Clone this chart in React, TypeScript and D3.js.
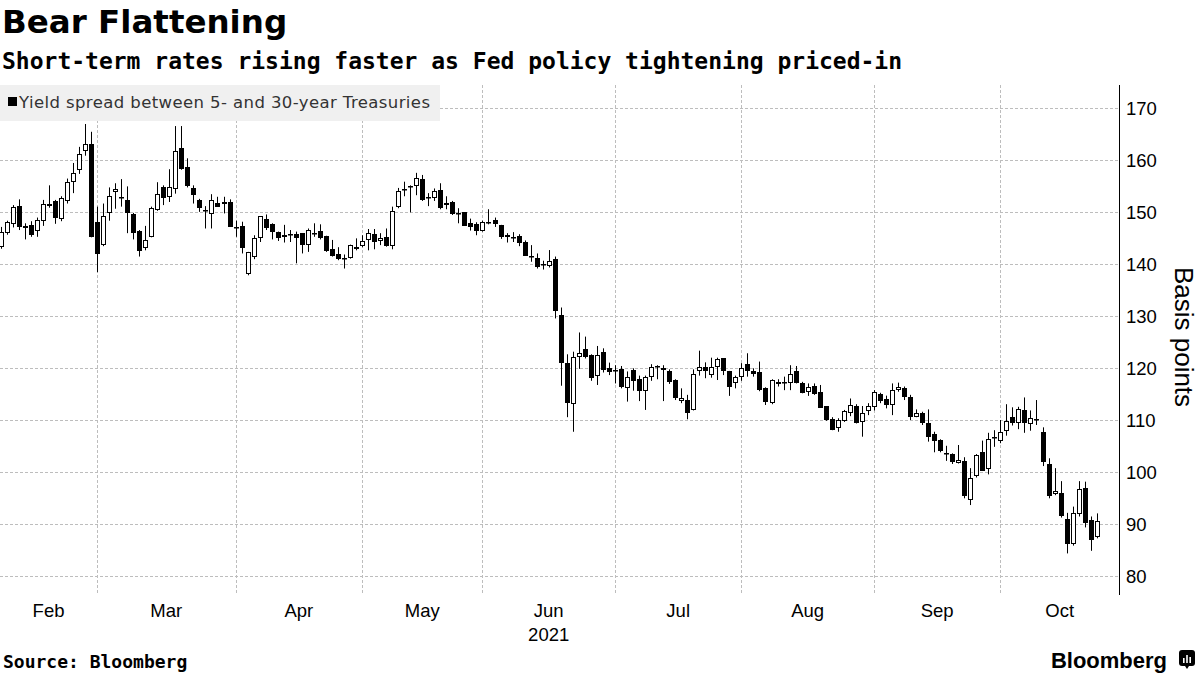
import React from 'react';
import * as d3 from 'd3';

// ---- Data (basis points), one entry per trading day, Feb 5 .. Oct 25, 2021 ----
const OPEN = [
  143.4, 146.1, 147.7, 151.3, 146.9, 147.6, 146.5, 148.4, 151.2, 152.2,
  148.8, 152.2, 155.9, 158.2, 161.8, 163.1, 148.1, 143.8, 149.9, 154.0,
  152.9, 152.4, 149.6, 146.4, 143.2, 145.3, 150.4, 154.8, 153.0, 154.4,
  162.4, 158.7, 154.7, 152.4, 150.5, 149.7, 151.8, 152.0, 152.0, 147.1,
  147.4, 138.1, 141.5, 145.0, 148.7, 147.7, 146.2, 145.2, 145.8, 145.8,
  146.0, 143.8, 146.1, 146.4, 145.4, 142.9, 141.9, 141.2, 141.3, 143.3,
  143.5, 144.7, 145.8, 144.5, 145.2, 143.5, 151.1, 154.3, 155.1, 155.1,
  156.4, 152.9, 152.8, 154.3, 151.8, 152.0, 149.8, 150.0, 148.0, 147.7,
  146.5, 148.2, 148.5, 147.6, 145.6, 145.3, 145.4, 144.3, 141.7, 141.3,
  140.0, 139.7, 141.0, 130.25, 121.1, 113.1, 122.2, 123.7, 122.55, 118.6,
  123.1, 120.0, 119.6, 119.8, 116.3, 119.7, 117.9, 115.6, 118.4, 120.45,
  120.1, 119.5, 117.8, 113.7, 113.9, 112.0, 119.4, 120.2, 118.8, 120.3,
  121.9, 119.5, 117.1, 118.4, 120.8, 119.55, 119.3, 116.15, 113.3, 116.9,
  117.4, 117.2, 119.4, 117.2, 115.5, 116.6, 115.4, 112.75, 110.2, 108.5,
  109.9, 111.35, 112.75, 109.7, 111.7, 112.6, 115.1, 114.1, 112.95, 115.8,
  116.3, 114.55, 110.7, 111.5, 109.55, 107.4, 106.2, 103.7, 103.5, 101.7,
  102.2, 94.7, 99.35, 104.0, 100.6, 106.8, 106.0, 108.0, 110.6, 109.4,
  112.0, 109.2, 110.2, 107.8, 101.6, 95.8, 95.95, 91.0, 86.2, 91.9,
  96.9, 90.8, 87.5,
];
const HIGH = [
  147.2, 148.4, 151.4, 152.5, 147.9, 148.3, 149.0, 152.4, 155.2, 152.4,
  153.1, 156.5, 159.5, 162.6, 167.0, 165.5, 151.1, 151.7, 154.8, 155.6,
  156.4, 155.0, 149.9, 146.6, 147.4, 151.1, 155.8, 155.2, 158.3, 166.6,
  166.6, 160.4, 155.2, 152.6, 151.2, 153.5, 153.0, 153.0, 152.5, 148.4,
  148.2, 142.4, 145.6, 149.3, 149.6, 147.9, 146.3, 147.6, 146.6, 146.3,
  146.0, 146.9, 147.9, 147.7, 145.5, 144.7, 143.3, 141.9, 143.8, 145.0,
  145.6, 146.8, 146.8, 146.0, 146.9, 151.1, 154.7, 155.9, 155.2, 157.6,
  157.2, 153.7, 154.6, 155.6, 153.1, 152.2, 150.8, 150.0, 148.8, 148.1,
  148.4, 150.6, 149.0, 147.6, 146.0, 146.2, 145.8, 144.6, 143.7, 142.1,
  140.7, 142.75, 141.5, 131.7, 122.7, 123.2, 126.9, 126.1, 122.7, 124.3,
  123.85, 121.1, 120.6, 120.45, 119.4, 120.0, 118.6, 118.6, 120.8, 120.6,
  120.6, 119.8, 117.9, 116.15, 114.9, 119.8, 123.4, 121.15, 122.05, 122.05,
  121.9, 119.5, 118.6, 121.0, 122.9, 120.0, 121.3, 116.35, 117.9, 117.9,
  118.4, 120.6, 120.45, 117.4, 117.1, 117.1, 116.8, 112.75, 110.6, 110.4,
  112.0, 114.2, 113.1, 112.75, 113.3, 115.8, 115.3, 114.75, 117.1, 117.25,
  116.5, 114.9, 112.1, 111.65, 112.1, 107.8, 106.35, 105.1, 103.65, 105.25,
  102.9, 100.8, 103.5, 106.1, 107.6, 108.1, 110.06, 113.1, 112.5, 112.6,
  114.4, 111.9, 113.9, 108.65, 102.7, 100.8, 98.3, 92.2, 93.4, 98.3,
  98.2, 91.5, 92.1,
];
const LOW = [
  143.0, 145.7, 147.1, 146.6, 144.8, 145.3, 145.3, 147.4, 150.9, 147.8,
  148.3, 151.7, 153.7, 157.4, 160.9, 145.2, 138.5, 143.5, 148.4, 150.7,
  151.1, 146.0, 144.8, 141.5, 142.7, 145.2, 150.3, 151.4, 152.0, 153.6,
  158.2, 154.8, 151.7, 150.1, 146.9, 146.9, 151.1, 149.8, 147.2, 145.3,
  142.1, 137.9, 141.0, 144.3, 146.6, 144.8, 144.5, 144.2, 144.3, 140.2,
  142.1, 142.4, 145.3, 144.8, 142.4, 141.5, 140.8, 139.2, 141.1, 142.7,
  143.3, 142.7, 142.9, 143.7, 143.4, 142.9, 150.8, 153.1, 150.0, 153.3,
  152.2, 151.2, 152.2, 150.6, 150.6, 149.5, 147.9, 147.4, 146.5, 145.6,
  146.3, 147.7, 147.2, 144.9, 144.2, 144.3, 143.5, 141.7, 140.5, 139.2,
  139.0, 139.4, 129.6, 116.65, 110.6, 107.8, 119.9, 121.9, 117.6, 116.8,
  119.2, 118.7, 117.1, 116.15, 113.6, 115.7, 113.7, 112.0, 117.6, 117.9,
  113.7, 117.0, 113.9, 113.3, 110.2, 111.9, 118.6, 118.1, 118.2, 117.75,
  118.7, 114.7, 116.15, 117.6, 118.4, 118.4, 115.6, 112.95, 113.1, 116.5,
  115.8, 115.8, 117.1, 115.2, 114.7, 114.9, 112.4, 109.9, 108.1, 107.8,
  109.7, 110.8, 109.4, 106.85, 111.0, 111.9, 113.3, 112.3, 111.0, 115.5,
  113.9, 110.06, 110.6, 109.1, 105.9, 103.85, 103.85, 102.2, 101.6, 101.7,
  95.0, 93.7, 99.0, 100.3, 99.6, 104.9, 105.6, 107.05, 109.0, 108.3,
  107.6, 108.0, 109.1, 101.2, 95.0, 95.6, 91.3, 84.4, 85.9, 91.5,
  89.4, 84.9, 87.3,
];
const CLOSE = [
  146.3, 148.1, 151.1, 147.2, 147.4, 145.6, 148.5, 151.7, 151.7, 149.0,
  152.7, 155.8, 157.5, 161.3, 163.2, 145.3, 141.9, 149.3, 153.1, 154.5,
  152.8, 149.9, 146.1, 142.6, 144.7, 150.8, 153.6, 152.8, 154.8, 161.8,
  158.3, 155.1, 153.3, 150.9, 150.2, 152.4, 151.1, 151.6, 147.2, 146.9,
  143.1, 142.3, 145.0, 149.3, 147.0, 146.3, 145.0, 145.6, 145.6, 145.0,
  143.7, 146.6, 145.8, 145.1, 142.6, 141.7, 141.0, 141.1, 143.7, 143.0,
  144.5, 146.0, 144.3, 145.1, 143.5, 150.3, 154.1, 154.5, 154.8, 156.7,
  152.4, 152.7, 154.1, 150.9, 151.5, 149.6, 149.7, 147.4, 147.2, 146.5,
  148.2, 148.0, 147.7, 145.3, 145.2, 145.0, 144.2, 141.7, 141.6, 139.5,
  139.9, 140.6, 131.1, 121.1, 113.4, 122.2, 122.9, 122.2, 118.2, 122.55,
  119.7, 119.2, 119.5, 116.5, 118.3, 117.6, 115.7, 118.4, 120.2, 120.2,
  119.7, 117.3, 114.2, 114.2, 111.35, 119.0, 120.2, 119.4, 120.2, 121.7,
  119.4, 116.5, 118.3, 120.0, 119.4, 118.9, 115.8, 113.6, 117.8, 117.4,
  117.1, 118.9, 117.2, 115.3, 116.5, 115.1, 112.4, 110.05, 108.1, 110.05,
  111.8, 112.95, 109.55, 111.5, 112.75, 115.5, 113.8, 112.95, 115.8, 116.35,
  114.4, 110.7, 111.5, 109.55, 106.85, 106.1, 104.1, 103.6, 102.05, 102.4,
  95.4, 99.0, 103.3, 100.3, 106.5, 106.6, 107.8, 109.9, 109.55, 112.2,
  109.4, 110.4, 110.1, 102.05, 95.45, 96.4, 91.5, 86.15, 92.1, 96.8,
  90.3, 87.0, 90.6,
];

const MONTHS = ['Feb', 'Mar', 'Apr', 'May', 'Jun', 'Jul', 'Aug', 'Sep', 'Oct'];
const MONTH_START = [0, 16, 39, 60, 80, 102, 123, 145, 166];
const YEAR_LABEL = '2021';
const Y_TICKS = [80, 90, 100, 110, 120, 130, 140, 150, 160, 170];

const TITLE = 'Bear Flattening';
const SUBTITLE = 'Short-term rates rising faster as Fed policy tightening priced-in';
const LEGEND = 'Yield spread between 5- and 30-year Treasuries';
const Y_LABEL = 'Basis points';
const SOURCE = 'Source: Bloomberg';

export default function App() {
  const W = 1200;
  const H = 675;
  const plotLeft = 0;
  const axisX = 1119;
  const plotTop = 85;
  const plotBottom = 595;
  const n = OPEN.length;

  const x = d3.scaleLinear().domain([0, n - 1]).range([0.7, 1096.7]);
  const y = d3.scaleLinear().domain([76.4, 174.5]).range([plotBottom, plotTop]);

  const sans = 'Liberation Sans, Arial, sans-serif';
  const wide = 'DejaVu Sans, Verdana, sans-serif';
  const mono = 'DejaVu Sans Mono, monospace';

  const candles = OPEN.map((o, i) => {
    const c = CLOSE[i];
    const hi = HIGH[i];
    const lo = LOW[i];
    const cx = Math.round(x(i)) + 0.5;
    const up = c >= o;
    const top = Math.round(y(Math.max(o, c)));
    const bot = Math.round(y(Math.min(o, c)));
    const h = Math.max(bot - top, 1);
    return (
      <g key={i}>
        <line x1={cx} x2={cx} y1={y(hi)} y2={y(lo)} stroke="#000" strokeWidth={1} />
        {up ? (
          <rect x={cx - 2} y={top + 0.5} width={4} height={Math.max(h - 1, 0.5)} fill="#fff" stroke="#000" strokeWidth={1} />
        ) : (
          <rect x={cx - 2.5} y={top} width={5} height={Math.max(h, 1.5)} fill="#000" />
        )}
      </g>
    );
  });

  const monthEdges = MONTH_START.map((s, i) => (i === 0 ? plotLeft : x(s)));
  const labelCenters = MONTHS.map((m, i) => {
    const a = monthEdges[i];
    const b = i < MONTHS.length - 1 ? monthEdges[i + 1] : axisX;
    return (a + b) / 2;
  });

  return (
    <svg
      width={W}
      height={H}
      viewBox={`0 0 ${W} ${H}`}
      style={{ position: 'absolute', left: 0, top: 0, background: '#fff' }}
    >
      <rect x={0} y={0} width={W} height={H} fill="#fff" />
      {/* Title & subtitle */}
      <text x={2} y={33} fontFamily={wide} fontWeight={700} fontSize={32.5} fill="#000">{TITLE}</text>
      <text x={2} y={69} fontFamily={mono} fontWeight={700} fontSize={23} fill="#000">{SUBTITLE}</text>

      {/* Horizontal gridlines */}
      {Y_TICKS.map((t) => (
        <line key={t} x1={plotLeft} x2={axisX} y1={Math.round(y(t)) + 0.5} y2={Math.round(y(t)) + 0.5}
          stroke="#bdbdbd" strokeWidth={1} strokeDasharray="3,2" />
      ))}
      {/* Vertical month gridlines */}
      {MONTH_START.slice(1).map((s) => (
        <line key={s} x1={Math.round(x(s)) + 0.5} x2={Math.round(x(s)) + 0.5} y1={plotTop} y2={plotBottom}
          stroke="#bdbdbd" strokeWidth={1} strokeDasharray="3,2" />
      ))}

      {/* Legend */}
      <rect x={0} y={85} width={440} height={36} fill="#f0f0f0" />
      <rect x={8} y={97} width={9} height={9} fill="#000" />
      <text x={19} y={108} fontFamily={wide} fontSize={16.5} fill="#333" textLength={411} lengthAdjust="spacing">{LEGEND}</text>

      {/* Candles */}
      {candles}

      {/* Right axis */}
      <line x1={axisX + 0.5} x2={axisX + 0.5} y1={plotTop} y2={plotBottom} stroke="#000" strokeWidth={1} />
      {Y_TICKS.map((t) => (
        <text key={t} x={1126} y={y(t) + 6.5} fontFamily={sans} fontSize={18.5} fill="#000">{t}</text>
      ))}
      <text
        transform={`translate(1175, ${337}) rotate(90)`}
        textAnchor="middle"
        fontFamily={sans}
        fontSize={26}
        fill="#000"
      >{Y_LABEL}</text>

      {/* X axis labels */}
      {MONTHS.map((m, i) => (
        <text key={m} x={labelCenters[i]} y={617} textAnchor="middle" fontFamily={sans} fontSize={18.5} fill="#000">{m}</text>
      ))}
      <text x={labelCenters[4]} y={641} textAnchor="middle" fontFamily={sans} fontSize={18.5} fill="#000">{YEAR_LABEL}</text>

      {/* Footer */}
      <text x={3} y={668} fontFamily={mono} fontWeight={700} fontSize={18} fill="#000">{SOURCE}</text>
      <text x={1167} y={668} textAnchor="end" fontFamily={sans} fontWeight={700} fontSize={22} fill="#000">Bloomberg</text>
      <g transform="translate(1179, 650)">
        <rect x={0} y={0} width={16} height={16} rx={3} fill="#000" />
        <path d="M6,16 L8,19 L10,16 Z" fill="#000" />
        <rect x={4} y={8} width={1.6} height={5} fill="#fff" />
        <rect x={7.2} y={5} width={1.6} height={8} fill="#fff" />
        <rect x={10.4} y={7} width={1.6} height={6} fill="#fff" />
      </g>
    </svg>
  );
}
